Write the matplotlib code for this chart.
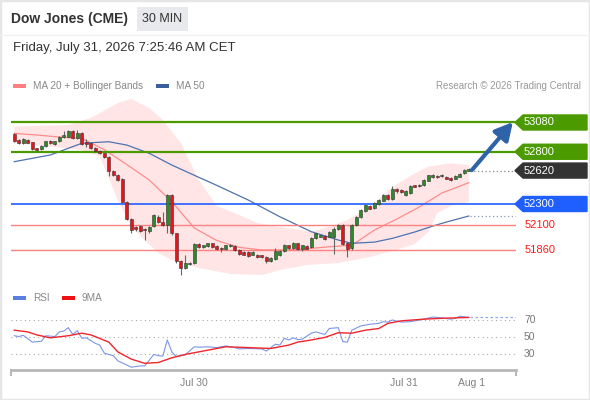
import numpy as np
import matplotlib.pyplot as plt
import matplotlib.transforms as mtransforms
from matplotlib.patches import Polygon, Rectangle
from matplotlib.lines import Line2D

plt.rcParams['font.family'] = ['Liberation Sans', 'DejaVu Sans']

# 30 min candles, Dow Jones (CME)
opens = [52970, 52912, 52886, 52912, 52890, 52833, 52823, 52855, 52906, 52874,
         52900, 52938, 52944, 52995, 52931, 52982, 52893, 52886, 52836, 52810,
         52785, 52752, 52618, 52580, 52542, 52319, 52159, 52083, 52089, 52063,
         52044, 52089, 52178, 52127, 52102, 52383, 52020, 51751, 51687, 51726,
         51738, 51917, 51885, 51898, 51924, 51898, 51879, 51872, 51898, 51898,
         51860, 51840, 51840, 51815, 51815, 51809, 51795, 51751, 51770, 51809,
         51853, 51905, 51879, 51924, 51866, 51898, 51885, 51974, 51987, 51993,
         51987, 51987, 52063, 52096, 51929, 51879, 52096, 52178, 52235, 52281,
         52261, 52300, 52331, 52389, 52351, 52446, 52434, 52389, 52408, 52479,
         52472, 52479, 52523, 52555, 52567, 52565, 52561, 52548, 52542, 52561,
         52594, 52618]
closes = [52905, 52886, 52919, 52886, 52823, 52817, 52855, 52900, 52880, 52900,
          52944, 52957, 53001, 52931, 52982, 52874, 52874, 52836, 52804, 52785,
          52752, 52618, 52574, 52529, 52319, 52159, 52051, 52058, 52044, 52051,
          52083, 52192, 52127, 52102, 52383, 52020, 51751, 51687, 51738, 51738,
          51917, 51885, 51905, 51924, 51885, 51872, 51866, 51905, 51910, 51860,
          51821, 51815, 51802, 51840, 51790, 51790, 51751, 51783, 51853, 51853,
          51910, 51879, 51929, 51866, 51905, 51872, 51974, 52019, 52000, 51968,
          52032, 52060, 52096, 51917, 51872, 52096, 52178, 52242, 52287, 52255,
          52307, 52338, 52389, 52351, 52446, 52421, 52415, 52427, 52472, 52465,
          52484, 52529, 52574, 52574, 52555, 52575, 52542, 52529, 52567, 52587,
          52626, 52632]
highs = [52980, 52920, 52930, 52920, 52895, 52840, 52862, 52905, 52912, 52905,
         52950, 52995, 53008, 53005, 53010, 52990, 52925, 52895, 52845, 52815,
         52790, 52760, 52625, 52590, 52550, 52325, 52165, 52090, 52095, 52068,
         52090, 52200, 52190, 52220, 52400, 52395, 52025, 51760, 51815, 51745,
         51925, 51925, 51912, 51930, 51930, 51905, 51885, 51912, 51918, 51905,
         51868, 51848, 51848, 51848, 51822, 51815, 51800, 51790, 51880, 51860,
         51918, 51912, 51935, 51930, 51912, 51905, 51980, 52025, 52008, 52000,
         52038, 52080, 52105, 52105, 51935, 52105, 52185, 52250, 52300, 52290,
         52315, 52345, 52395, 52395, 52470, 52455, 52440, 52435, 52478, 52485,
         52490, 52535, 52582, 52585, 52580, 52590, 52568, 52555, 52574, 52594,
         52632, 52640]
lows = [52890, 52878, 52878, 52880, 52815, 52805, 52815, 52850, 52875, 52868,
        52895, 52930, 52940, 52925, 52925, 52865, 52848, 52825, 52795, 52775,
        52740, 52568, 52565, 52520, 52310, 52150, 52020, 52040, 52035, 51955,
        52020, 52080, 52115, 52090, 52022, 52000, 51740, 51623, 51680, 51720,
        51730, 51875, 51878, 51890, 51878, 51860, 51840, 51862, 51890, 51850,
        51815, 51808, 51795, 51808, 51780, 51782, 51735, 51745, 51760, 51800,
        51845, 51870, 51872, 51860, 51850, 51865, 51878, 51968, 51980, 51960,
        51980, 51820, 52055, 51910, 51795, 51860, 52090, 52170, 52228, 52248,
        52255, 52292, 52325, 52340, 52340, 52410, 52408, 52380, 52400, 52458,
        52465, 52472, 52518, 52548, 52548, 52560, 52535, 52522, 52535, 52555,
        52588, 52612]

# indicators (bar index, value)
ma20_x = [0, 5, 10, 15, 20, 25, 30, 35, 40, 45, 50, 55, 60, 65, 70, 75, 80, 85, 90, 95, 101]
ma20 = [52976, 52960, 52941, 52927, 52820, 52678, 52529, 52322, 52070, 51950, 51885,
        51860, 51860, 51872, 51891, 51905, 52050, 52156, 52271, 52405, 52504]
ma50_x = [0, 8, 15, 21, 25, 30, 35, 41, 44, 52, 59, 66, 72, 75, 80, 84, 89, 93, 96, 101]
ma50 = [52705, 52769, 52881, 52896, 52864, 52785, 52673, 52555, 52498, 52338, 52178,
        52035, 51955, 51924, 51935, 51971, 52032, 52089, 52127, 52185]
bb_up_x = [0, 12, 17, 23, 26, 30, 33, 37, 41, 45, 50, 54, 59, 66, 70, 74, 79, 84, 89, 92, 97, 101]
bb_up = [53040, 53056, 53123, 53266, 53305, 53218, 53104, 52884, 52529, 52281, 52195,
         52118, 52080, 52035, 52082, 52147, 52271, 52462, 52593, 52657, 52689, 52673]
bb_lo_x = [0, 15, 19, 23, 26, 29, 32, 35, 41, 48, 55, 59, 65, 72, 79, 84, 89, 92, 94, 97, 101]
bb_lo = [52884, 52817, 52759, 52338, 52080, 51955, 51831, 51764, 51687, 51630, 51620,
         51668, 51716, 51735, 51793, 51850, 51917, 52032, 52214, 52281, 52319]

rsi_x = [0, 1, 2, 4, 6, 7, 9, 10, 11, 12, 13, 14, 15, 16, 18, 19, 20, 22, 23, 25, 26,
         28, 29, 31, 32, 33, 34, 35, 36, 38, 40, 41, 43, 45, 47, 49, 50, 52, 55, 56,
         58, 59, 60, 61, 62, 63, 64, 66, 67, 69, 70, 72, 73, 74, 75, 77, 79, 81, 82,
         83, 84, 86, 88, 89, 91, 93, 95, 97, 98, 99, 101]
rsi = [51.5, 50.5, 52, 44, 45, 51.5, 50.5, 56, 57, 61, 53, 57.5, 48.5, 49, 42.5, 40.5,
       31, 28, 22, 17, 14.5, 16, 16, 29.5, 28, 27.5, 46.5, 32.5, 27, 29, 38.5, 38, 38.5,
       37.5, 39.5, 37.5, 36, 36.5, 36, 33.5, 41.5, 40.5, 48.5, 46.5, 49, 47, 47.5, 54.5,
       56, 53, 60, 61, 44.5, 44, 58, 63, 65, 66, 68, 67.5, 70, 67.5, 68, 69, 71, 73.5,
       72.5, 71, 72, 74.5, 73]
ma9_x = [0, 3, 5, 8, 12, 15, 17, 21, 23, 26, 29, 32, 35, 38, 43, 47, 52, 57, 61, 63,
         66, 69, 72, 75, 78, 81, 83, 86, 91, 95, 101]
ma9 = [58, 56, 52.5, 49, 51.5, 54.5, 52.5, 44, 32.5, 24, 19, 20, 25.5, 29.5, 34.5, 38.5,
       37.5, 36.5, 40.5, 44, 46.5, 49.5, 55, 54.5, 58, 60, 66, 69, 71, 72, 73]

tick_pos = [40, 86.6, 101.7]
tick_labels = ['Jul 30', 'Jul 31', 'Aug 1']

W, H = 590, 400
fig = plt.figure(figsize=(W / 100, H / 100), dpi=100)


def fx(x):
    return x / W


def fy(y):
    return 1 - y / H


# pixel layout of the price panel
x0, x1 = 11, 516
first_px, bar_px = 14.3, 4.5
xlim = ((x0 - first_px) / bar_px, (x1 - first_px) / bar_px)


def price_at(y):
    return 52300 + (204 - y) * 9.57


ax = fig.add_axes([fx(x0), fy(283), (x1 - x0) / W, (283 - 95) / H])
ax.set_xlim(*xlim)
ax.set_ylim(price_at(283), price_at(95))
ax.axis('off')

# bollinger bands + moving averages
ax.fill(list(bb_up_x) + bb_lo_x[::-1], list(bb_up) + bb_lo[::-1],
        color='#ffe5e5', lw=0, zorder=1)
ax.plot(ma20_x, ma20, color='#ff8c8c', lw=0.9, zorder=2)
ax.plot(ma50_x, ma50, color='#4f72b0', lw=0.9, zorder=2)

# levels
ax.axhline(53080, color='#4a9a00', lw=1.6, zorder=2)
ax.axhline(52800, color='#4a9a00', lw=1.6, zorder=2)
ax.axhline(52300, color='#1f5eff', lw=1.2, zorder=2)
ax.axhline(52100, color='#ff8080', lw=1.0, zorder=2)
ax.axhline(51860, color='#ff8080', lw=1.0, zorder=2)
last = len(closes) - 1
ax.hlines(52620, last + 0.3, xlim[1], color='#888888', lw=0.9, linestyles=(0, (1, 2)), zorder=2)
ax.hlines(ma50[-1], last + 0.3, xlim[1], color='#8899bb', lw=0.9, linestyles=(0, (1, 2)), zorder=2)

# candles
idx = np.arange(len(opens))
o = np.array(opens)
c = np.array(closes)
colors = np.where(c >= o, '#2b8a2b', '#e8141a')
ax.vlines(idx, lows, highs, color='#666666', lw=0.8, zorder=3)
ax.bar(idx, np.maximum(np.abs(c - o), 12), bottom=np.minimum(o, c), width=0.72,
       color=colors, edgecolor='#333333', lw=0.4, zorder=4)

# arrow
ax.annotate('', xy=(110.8, 53084), xytext=(101.7, 52625), annotation_clip=False,
            arrowprops=dict(arrowstyle='-|>,head_length=0.75,head_width=0.4',
                            color='#2f63a8', lw=3, mutation_scale=14,
                            shrinkA=0, shrinkB=0), zorder=6)

# price tags on the right
trans = mtransforms.blended_transform_factory(fig.transFigure, ax.transData)
hh = 7.5 * 9.57
tags = [(53080, '#4a9a00'), (52800, '#4a9a00'), (52620, '#333333'), (52300, '#1f5eff')]
for p, col in tags:
    pts = [(fx(515), p), (fx(523), p + hh), (fx(587), p + hh), (fx(587), p - hh), (fx(523), p - hh)]
    ax.add_patch(Polygon(pts, closed=True, transform=trans, color=col, clip_on=False, zorder=5))
    ax.text(fx(524), p, str(p), transform=trans, color='white', fontsize=8,
            va='center', ha='left', clip_on=False, zorder=6)
for p in [52100, 51860]:
    ax.text(fx(525), p, str(p), transform=trans, color='#ff1a1a', fontsize=8,
            va='center', ha='left', clip_on=False)

# RSI panel
def rsi_at(y):
    return 50 + (337 - y) / 0.85


ax2 = fig.add_axes([fx(x0), fy(370), (x1 - x0) / W, (370 - 305) / H])
ax2.set_xlim(*xlim)
ax2.set_ylim(rsi_at(370), rsi_at(305))
for s in ['top', 'left', 'right']:
    ax2.spines[s].set_visible(False)
ax2.spines['bottom'].set_color('#b8b8b8')
ax2.spines['bottom'].set_linewidth(2)
ax2.set_yticks([])
ax2.set_xticks(tick_pos, tick_labels)
ax2.tick_params(axis='x', length=0, pad=6, labelsize=7.5, labelcolor='#808080')
for xe in [0, 1]:
    ax2.plot([xe, xe], [0, -0.07], transform=ax2.transAxes, color='#b8b8b8', lw=1.5,
             clip_on=False)
ax2.hlines([30, 50, 70], *xlim, color='#aaaaaa', lw=0.8, linestyles=(0, (1, 3)))
ax2.plot(rsi_x, rsi, color='#7b96e6', lw=0.8, zorder=3)
ax2.plot(ma9_x, ma9, color='#f0262a', lw=1.0, zorder=3)
ax2.hlines(rsi[-1], last + 0.3, xlim[1], color='#90a8ee', lw=0.9, linestyles=(0, (2, 2)))
trans2 = mtransforms.blended_transform_factory(fig.transFigure, ax2.transData)
for v in [70, 50, 30]:
    ax2.text(fx(524), v, str(v), transform=trans2, color='#777777', fontsize=7.5,
             va='center', ha='left', clip_on=False)

# header and legends
fig.add_artist(Rectangle((0, 0), 1, 1, transform=fig.transFigure, fill=False,
                         edgecolor='#e6e6e6', lw=2.5))
fig.add_artist(Line2D([0, 1], [fy(35), fy(35)], color='#f0f0f0', lw=1))
fig.text(fx(11), fy(19), 'Dow Jones (CME)', fontsize=10, fontweight='bold',
         color='#333333', va='center', ha='left')
fig.add_artist(Rectangle((fx(137), fy(31)), fx(51), 24 / H, transform=fig.transFigure,
                         color='#e8e9ec', lw=0))
fig.text(fx(162.5), fy(19), '30 MIN', fontsize=9, color='#333333', va='center', ha='center')
fig.text(fx(13), fy(48), 'Friday, July 31, 2026 7:25:46 AM CET', fontsize=9.5,
         color='#333333', va='center', ha='left')


def legend_item(x, y, col, label):
    fig.add_artist(Rectangle((fx(x), fy(y + 2)), fx(13), 4 / H, transform=fig.transFigure,
                             color=col, lw=0))
    fig.text(fx(x + 20), fy(y), label, fontsize=7.2, color='#888888', va='center', ha='left')


legend_item(13, 86, '#ff8080', 'MA 20 + Bollinger Bands')
legend_item(156, 86, '#3a5f9a', 'MA 50')
legend_item(13, 298, '#5b7fe0', 'RSI')
legend_item(62, 298, '#ee1111', '9MA')
fig.text(fx(581), fy(86), 'Research \u00a9 2026 Trading Central', fontsize=7,
         color='#999999', va='center', ha='right')

fig.savefig('out.png', dpi=100)
